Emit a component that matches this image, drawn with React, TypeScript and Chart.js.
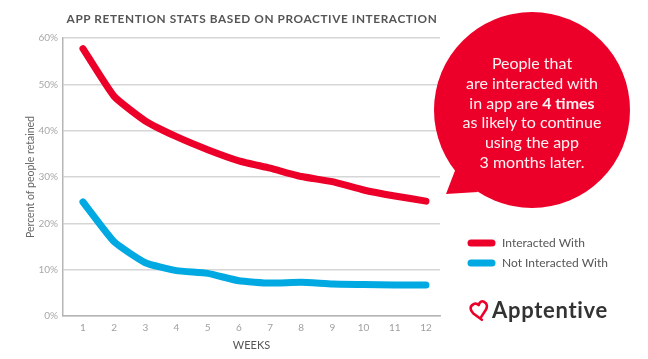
import React, { useEffect, useRef } from "react";
import { Chart, registerables } from "chart.js";

Chart.register(...registerables);

const weeks = [1, 2, 3, 4, 5, 6, 7, 8, 9, 10, 11, 12];
const interactedWith = [57.7, 47.4, 42.1, 38.7, 35.9, 33.5, 31.9, 30.1, 29.0, 27.2, 25.9, 24.8];
const notInteractedWith = [24.6, 16.0, 11.5, 9.8, 9.2, 7.6, 7.1, 7.3, 6.9, 6.8, 6.7, 6.7];
const yTicks = [0, 10, 20, 30, 40, 50, 60];
const seriesNames = ["Interacted With", "Not Interacted With"];
const title = "APP RETENTION STATS BASED ON PROACTIVE INTERACTION";
const bubbleLines = ["People that", "are interacted with", "in app are |4 times", "as likely to continue", "using the app", "3 months later."];

const RED = "#EC0029";
const BLUE = "#00A9E2";
const FONT = "Lato, 'Noto Sans', sans-serif";

export default function App() {
  const canvasRef = useRef<HTMLCanvasElement | null>(null);

  useEffect(() => {
    document.body.style.margin = "0";
    const ctx = canvasRef.current!.getContext("2d")!;
    const chart = new Chart(ctx, {
      type: "line",
      data: {
        datasets: [
          {
            label: seriesNames[0],
            data: weeks.map((w, i) => ({ x: w, y: interactedWith[i] })),
            borderColor: RED,
            borderWidth: 7,
            borderCapStyle: "round",
            borderJoinStyle: "round",
            pointRadius: 0,
            tension: 0.15,
          },
          {
            label: seriesNames[1],
            data: weeks.map((w, i) => ({ x: w, y: notInteractedWith[i] })),
            borderColor: BLUE,
            borderWidth: 7,
            borderCapStyle: "round",
            borderJoinStyle: "round",
            pointRadius: 0,
            tension: 0.15,
          },
        ],
      },
      options: {
        animation: false,
        responsive: false,
        maintainAspectRatio: false,
        layout: { padding: { left: 0, top: 38, right: 208, bottom: 0 } },
        plugins: { legend: { display: false }, tooltip: { enabled: false }, title: { display: false } },
        scales: {
          x: {
            type: "linear",
            min: 0.36,
            max: 12.45,
            afterBuildTicks: (scale: any) => {
              scale.ticks = weeks.map((v) => ({ value: v }));
            },
            afterFit: (scale: any) => {
              scale.height = 43;
            },
            grid: { display: false, drawTicks: false },
            border: { display: true, color: "#b5b5b5", width: 1.5 },
            ticks: {
              color: "#a0a0a0",
              font: { family: FONT, size: 10 },
              padding: 6,
              autoSkip: false,
              maxRotation: 0,
              callback: (v: any) => String(v),
            },
            title: {
              display: true,
              text: "WEEKS",
              color: "#555",
              font: { family: FONT, size: 11 },
              padding: { top: 0, bottom: 7 },
            },
          },
          y: {
            min: 0,
            max: 60,
            afterBuildTicks: (scale: any) => {
              scale.ticks = yTicks.map((v) => ({ value: v }));
            },
            afterFit: (scale: any) => {
              scale.width = 63;
            },
            grid: { color: "#d6d6d6", lineWidth: 1.5, drawTicks: false },
            border: { display: true, color: "#b5b5b5", width: 1.5 },
            ticks: {
              color: "#a8a8a8",
              font: { family: FONT, size: 10 },
              padding: 5,
              callback: (v: any) => v + "%",
            },
            title: {
              display: true,
              text: "Percent of people retained",
              color: "#666",
              font: { family: FONT, size: 10.5 },
              padding: { top: 24, bottom: 0 },
            },
          },
        },
      },
    });
    return () => chart.destroy();
  }, []);

  return (
    <div style={{ position: "absolute", left: 0, top: 0, width: 648, height: 359, background: "#fff", overflow: "hidden", fontFamily: FONT }}>
      <canvas ref={canvasRef} width={648} height={359} style={{ position: "absolute", left: 0, top: 0, width: 648, height: 359 }} />
      <div
        style={{
          position: "absolute",
          left: 66,
          top: 11,
          width: 372,
          textAlign: "center",
          fontSize: 11.8,
          fontWeight: 700,
          color: "#555",
          letterSpacing: 0.6,
          whiteSpace: "nowrap",
        }}
      >
        {title}
      </div>
      <svg width={648} height={359} style={{ position: "absolute", left: 0, top: 0 }}>
        <circle cx={532} cy={110} r={98} fill={RED} />
        <polygon points="446,194 456,168 478,192" fill={RED} />
        {/* logo icon */}
        <path
          d="M480,320 L473,312 C470,308 471,304 475,303 C478,302 480,305 480,305 C481,302 484,301 486,303 C489,305 488,309 486,311 L480,317"
          fill="none"
          stroke={RED}
          strokeWidth={2.6}
          strokeLinejoin="round"
          strokeLinecap="round"
          transform="rotate(-12 480 311)"
        />
        <line x1={471} y1={243} x2={492} y2={243} stroke={RED} strokeWidth={7} strokeLinecap="round" />
        <line x1={471} y1={263} x2={492} y2={263} stroke={BLUE} strokeWidth={7} strokeLinecap="round" />
      </svg>
      <div
        style={{
          position: "absolute",
          left: 432,
          top: 53,
          width: 200,
          textAlign: "center",
          color: "#fff1f2",
          fontSize: 16,
          lineHeight: "19.8px",
        }}
      >
        {bubbleLines.map((l, i) => {
          const parts = l.split("|");
          return (
            <div key={i}>
              {parts[0]}
              {parts[1] ? <b>{parts[1]}</b> : null}
            </div>
          );
        })}
      </div>
      <div style={{ position: "absolute", left: 502, top: 235, fontSize: 12, color: "#555", lineHeight: "16px" }}>{seriesNames[0]}</div>
      <div style={{ position: "absolute", left: 502, top: 255, fontSize: 12, color: "#555", lineHeight: "16px" }}>{seriesNames[1]}</div>
      <div style={{ position: "absolute", left: 492, top: 298, fontSize: 22, fontWeight: 700, color: "#333", lineHeight: "24px", letterSpacing: 0.7 }}>
        Apptentive
      </div>
    </div>
  );
}
